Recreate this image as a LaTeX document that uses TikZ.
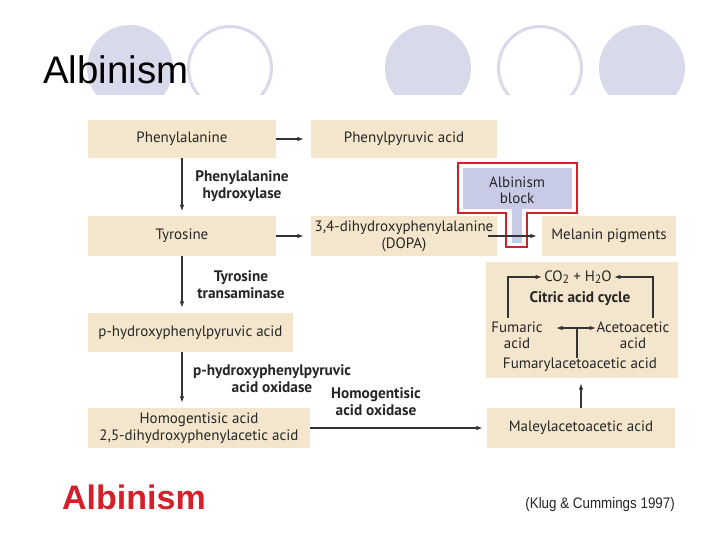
\documentclass[tikz,border=0pt]{standalone}
\usepackage{fontspec}
\setmainfont{PT Sans}
\newfontfamily\arialf{Liberation Sans}
\newfontfamily\narrowf[FakeStretch=0.88]{Liberation Sans}
\usetikzlibrary{arrows.meta}
\definecolor{beige}{HTML}{F4E6CC}
\definecolor{lav}{HTML}{D9D9EC}
\definecolor{blocklav}{HTML}{C8CBE5}
\definecolor{albred}{HTML}{D5202A}
\definecolor{txt}{HTML}{262626}
\definecolor{ln}{HTML}{333333}
\newcommand{\subtwo}{\raisebox{-2.5pt}{\fontsize{12}{12}\selectfont 2}}
\tikzset{
  box/.style={fill=beige, inner sep=0pt, text=txt, align=center,
    font=\fontsize{15}{17}\selectfont},
  lbl/.style={inner sep=0pt, text=txt, align=center,
    font=\bfseries\fontsize{15.3}{17}\selectfont},
  itxt/.style={inner sep=0pt, text=txt, align=center,
    font=\fontsize{15}{16}\selectfont},
  arr/.style={draw=ln, line width=1.1pt, -{Latex[length=6.5pt,width=4.5pt]}},
  plain/.style={draw=ln, line width=1.1pt},
  ring/.style={draw=lav, line width=3pt},
}
\begin{document}
\begin{tikzpicture}[x=1pt,y=-1pt]
\useasboundingbox (0,0) rectangle (720,540);
\fill[white] (0,0) rectangle (720,540);
% decorative circles
\begin{scope}
\clip (0,0) rectangle (720,95);
\fill[lav] (130,68) circle (43);
\draw[ring] (230,68) circle (41.5);
\fill[lav] (428,68) circle (43);
\draw[ring] (540,68) circle (41.5);
\fill[lav] (642,68) circle (43);
\end{scope}
\node[anchor=base west, inner sep=0pt, font=\arialf\fontsize{38.4}{38.4}\selectfont] (title) at (43,84) {Albinism};

% boxes
\node[box, minimum width=188pt, minimum height=38pt] (phe) at (182,139) {Phenylalanine};
\node[box, minimum width=186pt, minimum height=38pt] (ppa) at (404,139) {Phenylpyruvic acid};
\node[box, minimum width=188pt, minimum height=39pt] (tyr) at (182,236) {Tyrosine};
\node[box, minimum width=186pt, minimum height=40pt] (dopa) at (404,236) {3,4-dihydroxyphenylalanine\\(DOPA)};
\node[box, minimum width=134pt, minimum height=40pt] (mel) at (609,236) {Melanin pigments};
\node[box, minimum width=205pt, minimum height=39pt] (php) at (190.5,332.5) {p-hydroxyphenylpyruvic acid};
\node[box, minimum width=222pt, minimum height=40pt] (hga) at (199,428) {Homogentisic acid\\2,5-dihydroxyphenylacetic acid};
\node[box, minimum width=188pt, minimum height=40pt] (mal) at (581,428) {Maleylacetoacetic acid};
\node[box, minimum width=192pt, minimum height=116pt] (big) at (582,320) {};

% albinism block
\draw[albred, line width=2pt, fill=white] (458,163) -- (577,163) -- (577,213) -- (527,213) -- (527,247) -- (506,247) -- (506,213) -- (458,213) -- cycle;
\fill[blocklav] (463,168) rectangle (572,209);
\fill[blocklav] (512,208) rectangle (522,243);
\node[itxt] (blk) at (517,190) {Albinism\\block};

% inside big box
\node[itxt] (co2) at (578,277) {CO\subtwo{} + H\subtwo{}O};
\node[lbl] (cac) at (580,299) {Citric acid cycle};
\node[itxt] (fum) at (517,335) {Fumaric\\acid};
\node[itxt] (aceto) at (633,335) {Acetoacetic\\acid};
\node[itxt] (fumac) at (580,365) {Fumarylacetoacetic acid};

% enzyme labels
\node[lbl] (l1) at (242,186.5) {Phenylalanine\\hydroxylase};
\node[lbl] (l2) at (241,285) {Tyrosine\\transaminase};
\node[lbl] (l3) at (272,378.5) {p-hydroxyphenylpyruvic\\acid oxidase};
\node[lbl] (l4) at (376,401.5) {Homogentisic\\acid oxidase};

% connectors
\draw[arr, shorten >=7pt] (phe) -- (ppa);
\draw[arr, shorten >=7pt] (tyr) -- (dopa);
\draw[arr, shorten >=5pt] (phe) -- (tyr);
\draw[arr, shorten >=5pt] (tyr.south) -- (tyr.south |- php.north);
\draw[arr, shorten >=5pt] (php.south -| tyr.south) -- (hga.north -| tyr.south);
\draw[arr, shorten <=-9pt, shorten >=5pt] (dopa) -- (mel);
\draw[arr, shorten >=4pt] (hga) -- (mal);
\draw[arr, shorten >=5pt] (mal.north) -- (mal.north |- big.south);

\coordinate (lf) at (508,318);
\coordinate (rf) at (653,318);
\coordinate (mj) at (577,328);
\coordinate (ml) at (556,328);
\coordinate (mr) at (596,328);
\draw[arr, shorten >=2pt] (lf) |- (co2.west);
\draw[arr, shorten >=2pt] (rf) |- (co2.east);
\draw[plain] (fumac.north -| mj) -- (mj);
\draw[arr] (mj) -- (ml);
\draw[arr] (mj) -- (mr);

% bottom texts
\node[anchor=base west, inner sep=0pt, text=albred, font=\arialf\bfseries\fontsize{34}{34}\selectfont] (alb) at (62,509) {Albinism};
\node[anchor=base east, inner sep=0pt, text=txt, font=\narrowf\fontsize{15.2}{15.2}\selectfont] (cite) at (675,508) {(Klug \& Cummings 1997)};
\end{tikzpicture}
\end{document}
